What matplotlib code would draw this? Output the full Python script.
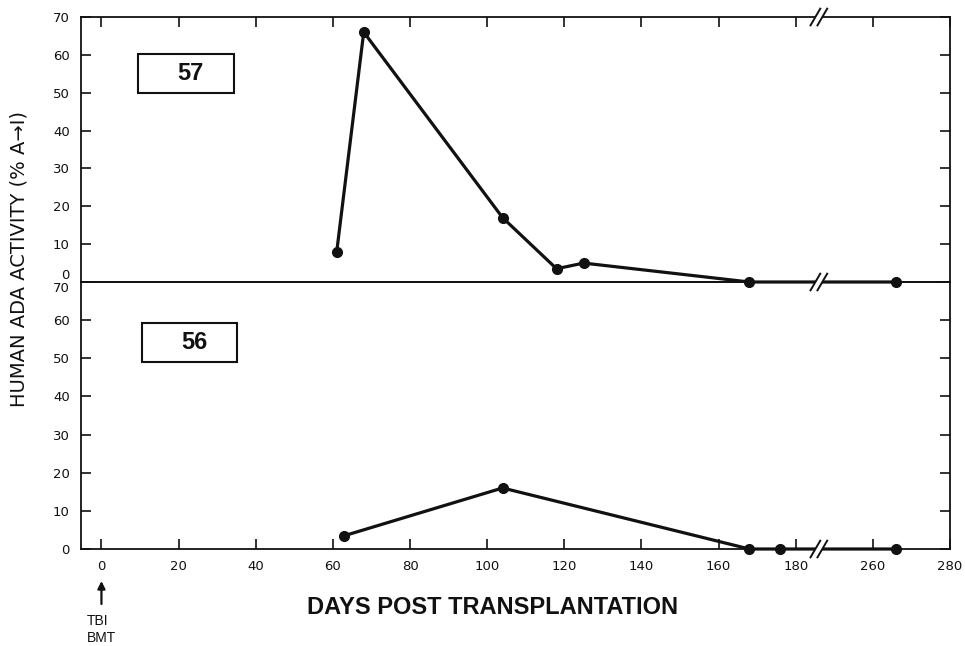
"""Human ADA activity after transplantation, recipients 57 and 56."""

import matplotlib

matplotlib.use("Agg")

import matplotlib.pyplot as plt
from matplotlib.lines import Line2D
from matplotlib.patches import Polygon, Rectangle
from matplotlib.transforms import Affine2D, ScaledTranslation, blended_transform_factory

INK = "#111111"

# the day axis is broken between 180 and 260; later days are drawn 60 days to the left
BREAK_START = 180
BREAK_END = 260
BREAK_GAP = 20
BREAK_AT = 186

DAY_TICKS = [0, 20, 40, 60, 80, 100, 120, 140, 160, 180, 260, 280]
ADA_TICKS = [0, 10, 20, 30, 40, 50, 60, 70]

DAYS_57 = [61, 68, 104, 118, 125, 168, 266]
ADA_57 = [8, 66, 17, 3.5, 5, 0, 0]

DAYS_56 = [63, 104, 168, 176, 266]
ADA_56 = [3.5, 16, 0, 0, 0]


def to_axis(day: float) -> float:
    if day >= BREAK_END:
        return day - (BREAK_END - BREAK_START - BREAK_GAP)
    return day


def draw_break(ax, x: float, y_axes: float) -> None:
    """Draw a // mark on a horizontal line at data x, axes-fraction y."""
    fig = ax.figure
    base = blended_transform_factory(ax.transData, ax.transAxes)
    trans = Affine2D().scale(fig.dpi / 72) + ScaledTranslation(x, y_axes, base)
    ax.add_patch(
        Polygon(
            [(-4.3, -3.2), (0.8, -3.2), (4.3, 3.2), (-0.8, 3.2)],
            closed=True,
            facecolor="white",
            edgecolor="none",
            transform=trans,
            clip_on=False,
            zorder=5,
        )
    )
    for dx in (-6.0, -1.0):
        ax.add_artist(
            Line2D([dx, dx + 7.0], [-6.0, 6.0], color=INK, lw=1.4, transform=trans, clip_on=False, zorder=6)
        )


def style_axes(ax, show_days: bool) -> None:
    ax.patch.set_visible(False)
    for spine in ax.spines.values():
        spine.set_linewidth(1.3)
        spine.set_color(INK)
    ax.set_xlim(-5.3, 220)
    ax.set_ylim(0, 70)
    ax.set_xticks([to_axis(d) for d in DAY_TICKS], labels=[str(d) for d in DAY_TICKS])
    ax.set_yticks(ADA_TICKS, labels=[str(v) for v in ADA_TICKS])
    ax.tick_params(direction="in", length=7, width=1.2, color=INK, labelsize=9.5, labelcolor=INK, pad=8)
    ax.tick_params(axis="y", left=True, right=True, labelright=False)
    if show_days:
        ax.tick_params(axis="x", top=False, bottom=True, labelbottom=True)
    else:
        ax.tick_params(axis="x", top=True, bottom=False, labelbottom=False)


def add_panel_box(ax, label: str, left: float, bottom: float) -> None:
    width, height = 0.110, 0.147
    ax.add_patch(
        Rectangle((left, bottom), width, height, transform=ax.transAxes, fill=False, edgecolor=INK, lw=1.5)
    )
    ax.text(
        left + width / 2 + 0.005,
        bottom + height / 2,
        label,
        transform=ax.transAxes,
        ha="center",
        va="center",
        fontsize=17,
        fontweight="bold",
        family="Liberation Sans",
        color=INK,
    )


def main() -> None:
    fig = plt.figure(figsize=(9.65, 6.46), dpi=100)
    ax_bot = fig.add_axes([81 / 965, 1 - 549 / 646, 869 / 965, 267 / 646])
    ax_top = fig.add_axes([81 / 965, 1 - 282 / 646, 869 / 965, 265 / 646])
    ax_top.set_zorder(2)

    style_axes(ax_top, show_days=False)
    style_axes(ax_bot, show_days=True)
    ax_top.get_yticklabels()[0].set_verticalalignment("bottom")
    ax_bot.get_yticklabels()[-1].set_verticalalignment("top")

    for ax, days, values in ((ax_top, DAYS_57, ADA_57), (ax_bot, DAYS_56, ADA_56)):
        ax.plot(
            [to_axis(d) for d in days],
            values,
            color=INK,
            lw=2.3,
            marker="o",
            markersize=7,
            clip_on=False,
            zorder=4,
        )

    draw_break(ax_top, BREAK_AT, 1.0)
    draw_break(ax_top, BREAK_AT, 0.0)
    draw_break(ax_bot, BREAK_AT, 0.0)

    add_panel_box(ax_top, "57", 0.0656, 0.713)
    add_panel_box(ax_bot, "56", 0.070, 0.700)

    fig.text(
        19 / 965,
        1 - 259 / 646,
        "HUMAN ADA ACTIVITY (% A\u2192I)",
        rotation=90,
        ha="center",
        va="center",
        fontsize=14,
        family="DejaVu Sans",
        color=INK,
    )
    fig.text(
        493 / 965,
        1 - 607 / 646,
        "DAYS POST TRANSPLANTATION",
        ha="center",
        va="center",
        fontsize=17,
        fontweight="bold",
        family="Liberation Sans",
        color=INK,
    )

    ax_bot.annotate(
        "",
        xy=(0, 1 - 581 / 646),
        xytext=(0, 1 - 604 / 646),
        xycoords=("data", "figure fraction"),
        textcoords=("data", "figure fraction"),
        arrowprops=dict(arrowstyle="-|>", color=INK, lw=1.6, mutation_scale=11, shrinkA=0, shrinkB=0),
        annotation_clip=False,
    )
    fig.text(
        87 / 965,
        1 - 614 / 646,
        "TBI\nBMT",
        ha="left",
        va="top",
        fontsize=10,
        family="Liberation Sans",
        linespacing=1.3,
        color=INK,
    )

    fig.savefig("out.png", dpi=100)
    plt.close(fig)


if __name__ == "__main__":
    main()
